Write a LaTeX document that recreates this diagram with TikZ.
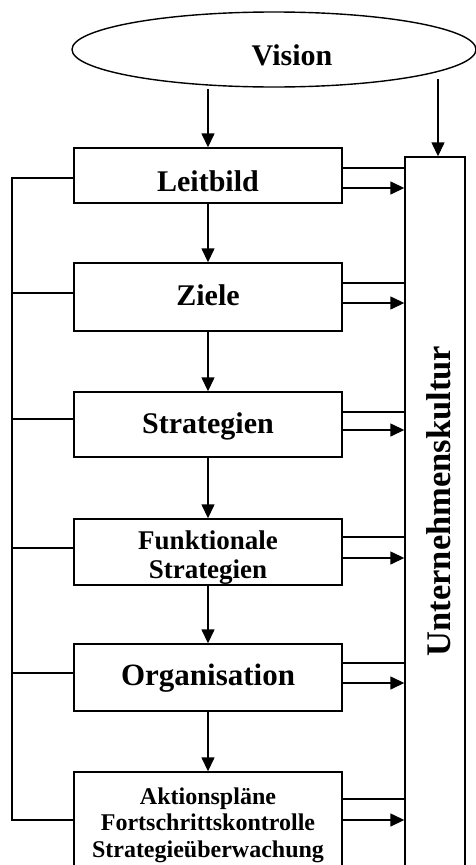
\documentclass[tikz,border=0pt]{standalone}
\usepackage{fontspec}
\setmainfont{Liberation Serif}
\usetikzlibrary{arrows.meta,shapes.geometric}
\begin{document}
\begin{tikzpicture}[x=1pt,y=-1pt,
  line width=1.4pt,
  arr/.style={-{Triangle[length=14pt,width=13pt]}},
  stage/.style={draw, rectangle, minimum width=268pt, inner sep=0pt,
    align=center, font=\bfseries\fontsize{30}{30}\selectfont},
  lbl/.style={font=\bfseries\fontsize{30}{30}\selectfont, inner sep=0pt},
]
\useasboundingbox (0,0) rectangle (476,865);
\clip (0,0) rectangle (476,865);

% vision ellipse on top
\node[draw, ellipse, minimum width=404pt, minimum height=75pt, inner sep=0pt] (vision) at (274,49.5) {};
\node[lbl, anchor=base] (visionlabel) at (292,65) {Vision};

% the chain of planning stages
\node[stage, minimum height=55pt, text height=31pt, text depth=0pt] (leit) at (208,175.5) {Leitbild};
\node[stage, minimum height=68pt, text height=16pt, text depth=0pt] (ziele) at (208,297) {Ziele};
\node[stage, minimum height=65pt, text height=17pt, text depth=0pt] (strat) at (208,424.5) {Strategien};
\node[stage, minimum height=66pt, font=\bfseries\fontsize{27}{29}\selectfont] (funk) at (208,552) {\rule{0pt}{30.5pt}Funktionale\\Strategien};
\node[stage, minimum height=67pt, text height=15pt, text depth=0pt, font=\bfseries\fontsize{31}{31}\selectfont] (org) at (208,677.5) {Organisation};
\node[stage, minimum height=106pt, font=\bfseries\fontsize{24}{26.5}\selectfont] (akt) at (208,825) {Aktionspläne\\Fortschrittskontrolle\\Strategieüberwachung};

% corporate culture column
\node[draw, rectangle, minimum width=60pt, minimum height=743pt, inner sep=0pt] (kultur) at (435,528.5) {};
\node[rotate=90, anchor=base, inner sep=0pt, font=\bfseries\fontsize{34.5}{34.5}\selectfont] (kulturlabel) at (450,501) {Unternehmenskultur};

% arrows from the vision
\coordinate (vl) at (208,89);
\coordinate (vr) at (438,79);
\draw[arr] (vl) -- (leit);
\draw[arr] (vr) -- (kultur.north -| vr);

% downward flow
\draw[arr] (leit) -- (ziele);
\draw[arr] (ziele) -- (strat);
\draw[arr] (strat) -- (funk);
\draw[arr] (funk) -- (org);
\draw[arr] (org) -- (akt);

% links into the culture column
\foreach \n/\a/\b in {leit/168/188, ziele/283/303, strat/412/430, funk/537/558, org/663/683, akt/799/820} {
  \draw (\n.east |- 0,\a) -- (kultur.west |- 0,\a);
  \draw[arr] (\n.east |- 0,\b) -- (kultur.west |- 0,\b);
}

% feedback spine on the left
\coordinate (spinetop) at (12,178);
\coordinate (spinebot) at (12,820);
\draw (leit.west |- spinetop) -- (spinetop) -- (spinebot) -- (akt.west |- spinebot);
\foreach \n/\a in {ziele/293, strat/419, funk/548, org/673}
  \draw (\n.west |- 0,\a) -- (spinetop |- 0,\a);
\end{tikzpicture}
\end{document}
